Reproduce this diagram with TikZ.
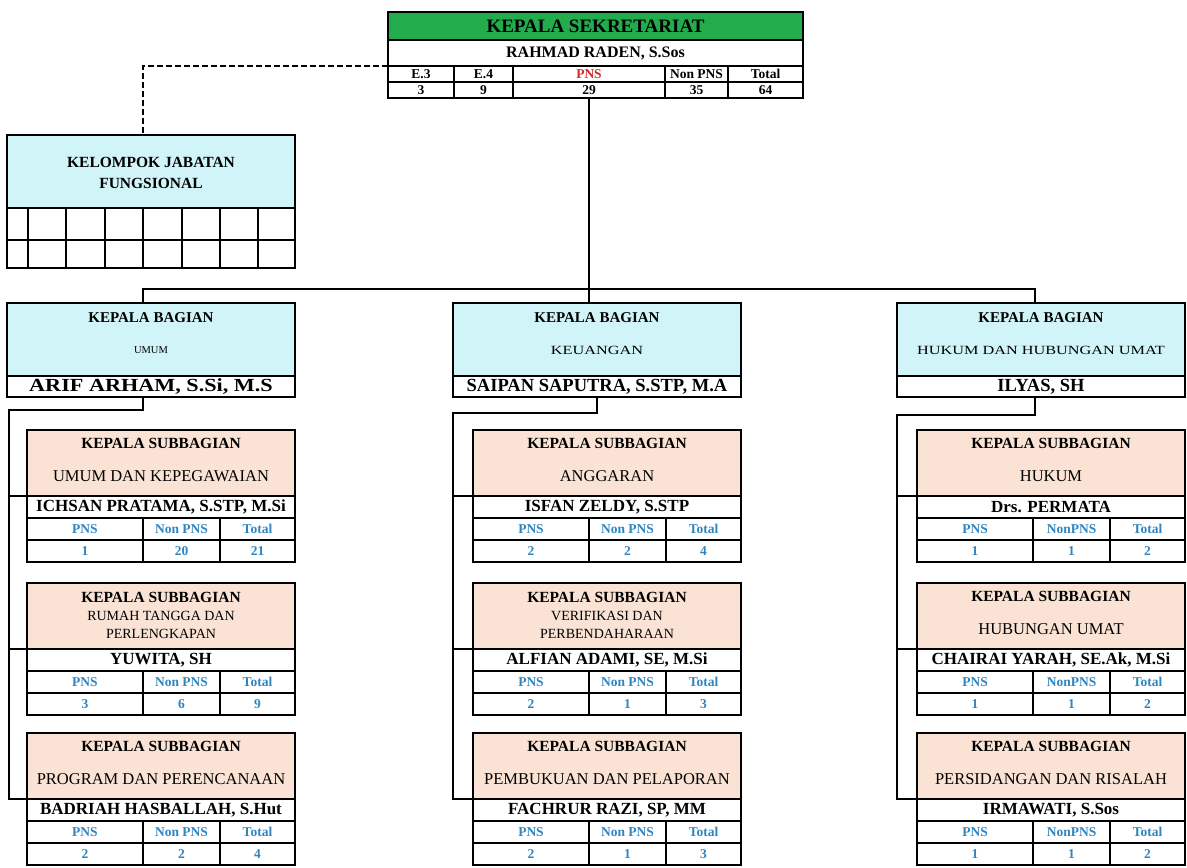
\documentclass[tikz,border=0pt]{standalone}
\usepackage{fontspec}
\setmainfont{Liberation Serif}
\usetikzlibrary{calc}
\definecolor{hdgreen}{RGB}{34,172,76}
\definecolor{cyanbox}{RGB}{208,244,248}
\definecolor{peach}{RGB}{250,227,212}
\definecolor{numblue}{RGB}{46,134,193}
\definecolor{pnsred}{RGB}{215,40,40}
\tikzset{
  box/.style={draw=black, line width=1.6pt, anchor=north west, inner sep=0pt, outer sep=0pt},
  cell/.style={draw=black, line width=1.1pt, anchor=north west, inner sep=0pt, outer sep=0pt},
  frame/.style={draw=black, line width=1.7pt, anchor=north west, inner sep=0pt, outer sep=0pt},
  conn/.style={line width=2.7pt, black},
  dashconn/.style={line width=1.6pt, black, dash pattern=on 6pt off 3pt},
  txt/.style={inner sep=0pt, outer sep=0pt, anchor=center},
  fTitle/.style={font=\fontsize{19}{21}\selectfont\bfseries},
  fTopName/.style={font=\fontsize{16}{18}\selectfont\bfseries},
  fTopHd/.style={font=\fontsize{13.5}{15}\selectfont\bfseries},
  fKel/.style={font=\fontsize{15.5}{17}\selectfont\bfseries},
  fDeptT/.style={font=\fontsize{15}{17}\selectfont\bfseries},
  fDeptN/.style={font=\fontsize{18.5}{20}\selectfont\bfseries},
  fSubT/.style={font=\fontsize{15.5}{17}\selectfont\bfseries},
  fSubS/.style={font=\fontsize{16.5}{18}\selectfont},
  fSubS2/.style={font=\fontsize{14}{16}\selectfont},
  fSubN/.style={font=\fontsize{17}{19}\selectfont\bfseries},
  fTab/.style={font=\fontsize{13.5}{15}\selectfont\bfseries, text=numblue},
}
\newcommand\nonlbl{Non PNS}
% #1 id, #2 column X, #3 top y, #4 subtitle line 1, #5 subtitle line 2, #6 name, #7-#9 values
\newcommand\SubBox[9]{%
  \node[box, fill=peach, minimum width=268, minimum height=66] (#1p) at (#2+20,#3) {};
  \node[box, fill=white, minimum width=268, minimum height=22] (#1n) at (#2+20,#3+66) {};
  \node[cell, minimum width=116, minimum height=22] (#1ha) at (#2+20,#3+88) {};
  \node[cell, minimum width=77, minimum height=22] (#1hb) at (#2+136,#3+88) {};
  \node[cell, minimum width=75, minimum height=22] (#1hc) at (#2+213,#3+88) {};
  \node[cell, minimum width=116, minimum height=22] (#1va) at (#2+20,#3+110) {};
  \node[cell, minimum width=77, minimum height=22] (#1vb) at (#2+136,#3+110) {};
  \node[cell, minimum width=75, minimum height=22] (#1vc) at (#2+213,#3+110) {};
  \node[frame, minimum width=268, minimum height=44] (#1tb) at (#2+20,#3+88) {};
  \if\relax\detokenize{#5}\relax
    \node[txt,fSubT] (#1t) at (#2+154,#3+13) {KEPALA SUBBAGIAN};
    \node[txt,fSubS] (#1s) at (#2+154,#3+46) {#4};
  \else
    \node[txt,fSubT] (#1t) at (#2+154,#3+14) {KEPALA SUBBAGIAN};
    \node[txt,fSubS2] (#1s) at (#2+154,#3+33) {#4};
    \node[txt,fSubS2] (#1u) at (#2+154,#3+51) {#5};
  \fi
  \node[txt,fSubN] (#1m) at (#2+154,#3+77) {#6};
  \node[txt,fTab] (#1hat) at (#1ha) {PNS};
  \node[txt,fTab] (#1hbt) at (#1hb) {\nonlbl};
  \node[txt,fTab] (#1hct) at (#1hc) {Total};
  \node[txt,fTab] (#1vat) at (#1va) {#7};
  \node[txt,fTab] (#1vbt) at (#1vb) {#8};
  \node[txt,fTab] (#1vct) at (#1vc) {#9};
}
% #1 id, #2 X, #3 subtitle (formatted), #4 name
\newcommand\Dept[4]{%
  \node[box, fill=cyanbox, minimum width=288, minimum height=73] (#1) at (#2,303) {};
  \node[box, fill=white, minimum width=288, minimum height=21] (#1n) at (#2,376) {};
  \node[txt,fDeptT] (#1t) at (#2+144,318) {KEPALA BAGIAN};
  \node[txt] (#1s) at (#2+144,350) {#3};
  \node[txt,fDeptN] (#1m) at (#2+144,387) {#4};
}
\begin{document}
\begin{tikzpicture}[x=1pt,y=-1pt]
\useasboundingbox (0,0) rectangle (1187,868);
\fill[white] (0,0) rectangle (1187,868);

% ---------- top box ----------
\node[box, fill=hdgreen, minimum width=415, minimum height=28] (topT) at (388,12) {};
\node[box, fill=white, minimum width=415, minimum height=26] (topN) at (388,40) {};
\foreach \xa/\xb/\nm in {388/454/a,454/513/b,513/665/c,665/728/d,728/803/e}{
  \node[cell, minimum width={\xb-\xa}, minimum height=16] (topH\nm) at (\xa,66) {};
  \node[cell, minimum width={\xb-\xa}, minimum height=16] (topV\nm) at (\xa,82) {};
}
\node[frame, minimum width=415, minimum height=86] (topAll) at (388,12) {};
\node[txt,fTitle] (topTt) at (595.5,26) {KEPALA SEKRETARIAT};
\node[txt,fTopName] (topNt) at (595.5,53) {RAHMAD RADEN, S.Sos};
\node[txt,fTopHd] (tha) at (topHa) {E.3};
\node[txt,fTopHd] (thb) at (topHb) {E.4};
\node[txt,fTopHd,text=pnsred] (thc) at (topHc) {PNS};
\node[txt,fTopHd] (thd) at (topHd) {Non PNS};
\node[txt,fTopHd] (the) at (topHe) {Total};
\node[txt,fTopHd] (tva) at (topVa) {3};
\node[txt,fTopHd] (tvb) at (topVb) {9};
\node[txt,fTopHd] (tvc) at (topVc) {29};
\node[txt,fTopHd] (tvd) at (topVd) {35};
\node[txt,fTopHd] (tve) at (topVe) {64};

% ---------- kelompok jabatan fungsional ----------
\node[box, fill=cyanbox, minimum width=288, minimum height=73] (kel) at (7,135) {};
\foreach \xa/\xb [count=\i] in {7/28,28/66,66/105,105/143,143/182,182/220,220/258,258/295}{
  \node[cell, minimum width={\xb-\xa}, minimum height=32] (kgA\i) at (\xa,208) {};
  \node[cell, minimum width={\xb-\xa}, minimum height=28] (kgB\i) at (\xa,240) {};
}
\node[frame, minimum width=288, minimum height=133] (kelAll) at (7,135) {};
\node[txt,fKel] (kelt1) at (151,162) {KELOMPOK JABATAN};
\node[txt,fKel] (kelt2) at (151,183) {FUNGSIONAL};

% ---------- departments ----------
\Dept{dL}{7}{\fontsize{10.5}{12}\selectfont UMUM}{\scalebox{1.2}[1]{ARIF ARHAM, S.Si, M.S}}
\Dept{dM}{453}{\fontsize{12.5}{14}\selectfont\scalebox{1.3}[1]{KEUANGAN}}{SAIPAN SAPUTRA, S.STP, M.A}
\Dept{dR}{897}{\fontsize{12.5}{14}\selectfont\scalebox{1.3}[1]{HUKUM DAN HUBUNGAN UMAT}}{ILYAS, SH}

% ---------- sub-sections ----------
\SubBox{sL1}{7}{430}{UMUM DAN KEPEGAWAIAN}{}{ICHSAN PRATAMA, S.STP, M.Si}{1}{20}{21}
\SubBox{sL2}{7}{583}{RUMAH TANGGA DAN}{PERLENGKAPAN}{YUWITA, SH}{3}{6}{9}
\SubBox{sL3}{7}{733}{PROGRAM DAN PERENCANAAN}{}{BADRIAH HASBALLAH, S.Hut}{2}{2}{4}
\SubBox{sM1}{453}{430}{ANGGARAN}{}{ISFAN ZELDY, S.STP}{2}{2}{4}
\SubBox{sM2}{453}{583}{VERIFIKASI DAN}{PERBENDAHARAAN}{ALFIAN ADAMI, SE, M.Si}{2}{1}{3}
\SubBox{sM3}{453}{733}{PEMBUKUAN DAN PELAPORAN}{}{FACHRUR RAZI, SP, MM}{2}{1}{3}
\renewcommand\nonlbl{NonPNS}
\SubBox{sR1}{897}{430}{HUKUM}{}{Drs. PERMATA}{1}{1}{2}
\SubBox{sR2}{897}{583}{HUBUNGAN UMAT}{}{CHAIRAI YARAH, SE.Ak, M.Si}{1}{1}{2}
\SubBox{sR3}{897}{733}{PERSIDANGAN DAN RISALAH}{}{IRMAWATI, S.Sos}{1}{1}{2}

% ---------- connectors ----------
\coordinate (jL) at (143,289);
\coordinate (jR) at (1035,289);
\coordinate (vL) at (9,410);
\coordinate (vM) at (453,413);
\coordinate (vR) at (897,415);
\draw[dashconn] (topN.south west) -| (kel.north -| jL);
\draw[conn] (topVc.south) -- (topVc.south |- dM.north);
\draw[conn] (dL.north -| jL) -- (jL) -- (jR) -- (dR.north -| jR);
\draw[conn] (dLn.south -| jL) |- (vL) |- (sL3n.north west);
\draw[conn] (vL |- sL1n.north west) -- (sL1n.north west);
\draw[conn] (vL |- sL2n.north west) -- (sL2n.north west);
\draw[conn] (dMn.south) |- (vM) |- (sM3n.north west);
\draw[conn] (vM |- sM1n.north west) -- (sM1n.north west);
\draw[conn] (vM |- sM2n.north west) -- (sM2n.north west);
\draw[conn] (dRn.south -| jR) |- (vR) |- (sR3n.north west);
\draw[conn] (vR |- sR1n.north west) -- (sR1n.north west);
\draw[conn] (vR |- sR2n.north west) -- (sR2n.north west);
\end{tikzpicture}
\end{document}
